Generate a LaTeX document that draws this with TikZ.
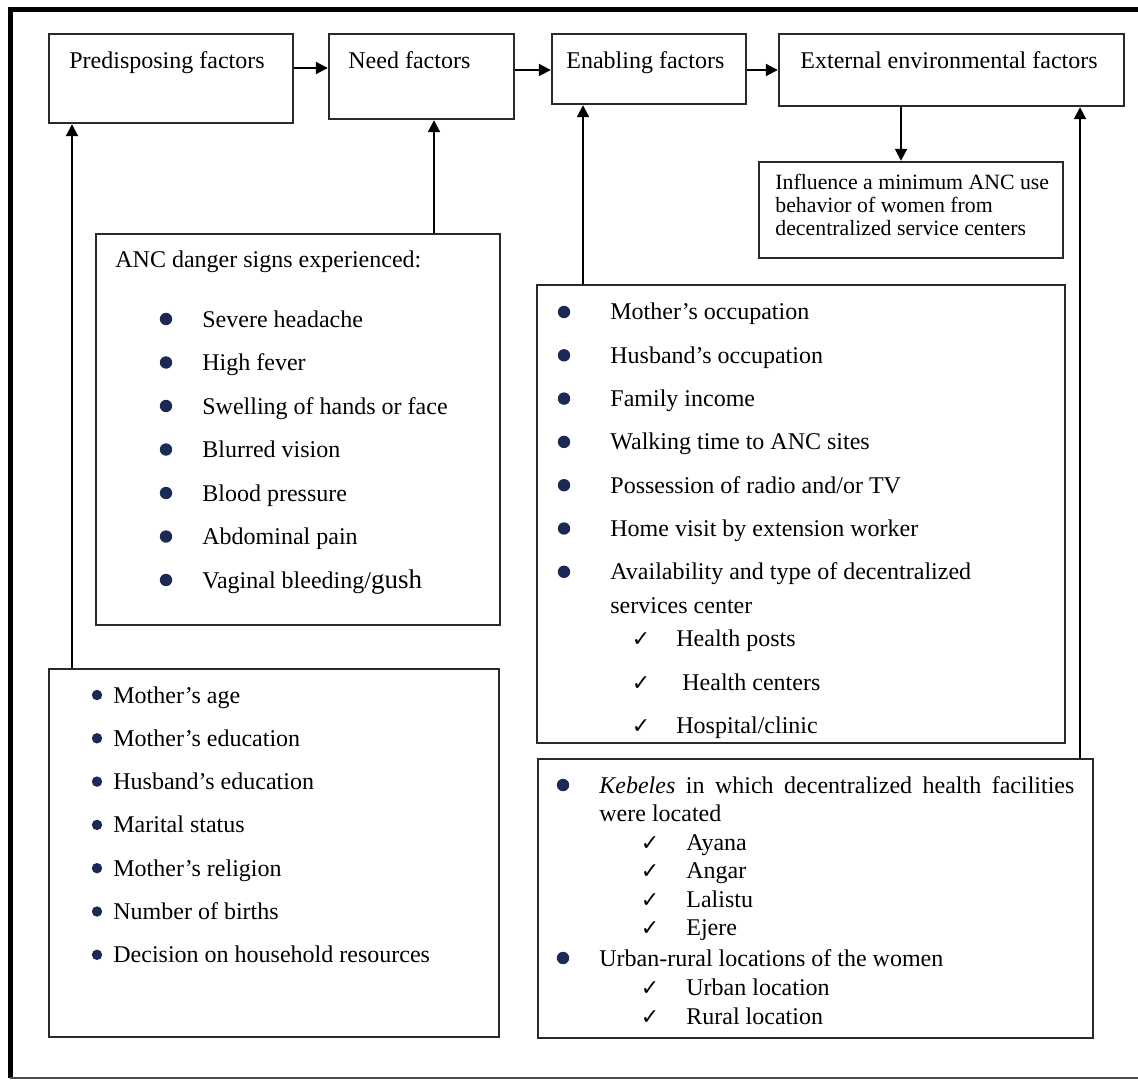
\documentclass[tikz,border=0pt]{standalone}
\usepackage{fontspec}
\setmainfont{Liberation Serif}
\newfontfamily\symfont{DejaVu Sans}
\usetikzlibrary{arrows.meta,fit}
\definecolor{navy}{HTML}{1B2A55}
\definecolor{boxline}{HTML}{2A2A2A}
\begin{document}
\begin{tikzpicture}[x=0.5pt,y=-0.5pt,
 box/.style={draw=boxline, line width=1.2pt, inner sep=0pt},
 arr/.style={draw=black, line width=1pt, -{Triangle[length=6pt,width=6pt]}},
 txt/.style={inner sep=0pt, anchor=base west, font=\fontsize{12pt}{14pt}\selectfont},
 small/.style={inner sep=0pt, anchor=base west, font=\fontsize{10.9pt}{13pt}\selectfont},
 bul/.style={circle, fill=navy, inner sep=0pt, minimum size=6.2pt},
 bulsm/.style={circle, fill=navy, inner sep=0pt, minimum size=5.2pt},
 chk/.style={inner sep=0pt, anchor=base, font=\symfont\fontsize{11pt}{12pt}\selectfont},
]
\useasboundingbox (0,0) rectangle (1138,1080);
\fill[white] (0,0) rectangle (1138,1080);
% outer frame
\draw[line width=2.5pt] (10,1078) -- (10,10) -- (1138,10);
\draw[line width=0.8pt, black!70] (10,1078) -- (1138,1078);

% top boxes
\node[box, fit={(49,34) (293,123)}] (pred) {};
\node[box, fit={(329,34) (514,119)}] (need) {};
\node[box, fit={(552,34) (746,104)}] (enab) {};
\node[box, fit={(779,34) (1124,106)}] (ext) {};
\node[txt] (tpred) at (69,69) {Predisposing factors};
\node[txt] (tneed) at (348,69) {Need factors};
\node[txt] (tenab) at (566,69) {Enabling factors};
\node[txt] (text) at (800,69) {External environmental factors};

% influence box
\node[box, fit={(759,162) (1063,258)}] (infl) {};
\node[small] (i1) at (775,190) {Influence a minimum ANC use};
\node[small] (i2) at (775,213) {behavior of women from};
\node[small] (i3) at (775,236) {decentralized service centers};

% danger signs box
\node[box, fit={(96,234) (500,625)}] (danger) {};
\node[txt] (dtitle) at (115,268) {ANC danger signs experienced:};
\foreach \t [count=\i] in {Severe headache, High fever, Swelling of hands or face, Blurred vision, Blood pressure, Abdominal pain}{
  \node[bul] (db\i) at (166,{319+43.5*(\i-1)}) {};
  \node[txt] (dt\i) at (202,{327+43.5*(\i-1)}) {\t};
}
\node[bul] (db7) at (166,580) {};
\node[txt] (dt7) at (202,588) {Vaginal bleeding/{\fontsize{13.5pt}{14pt}\selectfont gush}};

% predisposing list box
\node[box, fit={(49,669) (499,1037)}] (predlist) {};
\foreach \t [count=\i] in {Mother’s age, Mother’s education, Husband’s education, Marital status, Mother’s religion, Number of births, Decision on household resources}{
  \node[bulsm] (pb\i) at (97,{695+43.3*(\i-1)}) {};
  \node[txt] (pt\i) at (113,{703+43.3*(\i-1)}) {\t};
}

% enabling list box
\node[box, fit={(537,285) (1065,743)}] (enlist) {};
\foreach \t [count=\i] in {Mother’s occupation, Husband’s occupation, Family income, Walking time to ANC sites, Possession of radio and/or TV, Home visit by extension worker, Availability and type of decentralized}{
  \node[bul] (eb\i) at (564,{312+43.3*(\i-1)}) {};
  \node[txt] (et\i) at (610,{320+43.3*(\i-1)}) {\t};
}
\node[txt] (et8) at (610,613) {services center};
\node[chk] (ec1) at (641,646) {✓};
\node[txt] (ect1) at (676,646) {Health posts};
\node[chk] (ec2) at (641,690) {✓};
\node[txt] (ect2) at (682,690) {Health centers};
\node[chk] (ec3) at (641,733) {✓};
\node[txt] (ect3) at (676,733) {Hospital/clinic};

% external list box
\node[box, fit={(538,759) (1093,1038)}] (extlist) {};
\node[bul] (xb1) at (563,785) {};
\node[txt] (xt1) at (599,793) {\hbox to 237.5pt{\textit{Kebeles}\hfill in\hfill which\hfill decentralized\hfill health\hfill facilities}};
\node[txt] (xt2) at (599,821) {were located};
\foreach \t [count=\i] in {Ayana, Angar, Lalistu, Ejere}{
  \node[chk] (xc\i) at (650,{850+28.5*(\i-1)}) {✓};
  \node[txt] (xct\i) at (686,{850+28.5*(\i-1)}) {\t};
}
\node[bul] (xb2) at (563,958) {};
\node[txt] (xt3) at (599,966) {Urban-rural locations of the women};
\node[chk] (xc5) at (650,995) {✓};
\node[txt] (xct5) at (686,995) {Urban location};
\node[chk] (xc6) at (650,1024) {✓};
\node[txt] (xct6) at (686,1024) {Rural location};

% connector coordinates
\coordinate (xa) at (72,0);
\coordinate (xb) at (434,0);
\coordinate (xc) at (583,0);
\coordinate (xd) at (1080,0);
\coordinate (xe) at (901,0);
\coordinate (ya) at (0,68);
\coordinate (yb) at (0,70);

% connectors
\draw[arr] (pred.east |- ya) -- (need.west |- ya);
\draw[arr] (need.east |- yb) -- (enab.west |- yb);
\draw[arr] (enab.east |- yb) -- (ext.west |- yb);
\draw[arr] (ext.south -| xe) -- (infl.north -| xe);
\draw[arr] (predlist.north -| xa) -- (pred.south -| xa);
\draw[arr] (danger.north -| xb) -- (need.south -| xb);
\draw[arr] (enlist.north -| xc) -- (enab.south -| xc);
\draw[arr] (extlist.north -| xd) -- (ext.south -| xd);
\end{tikzpicture}
\end{document}
